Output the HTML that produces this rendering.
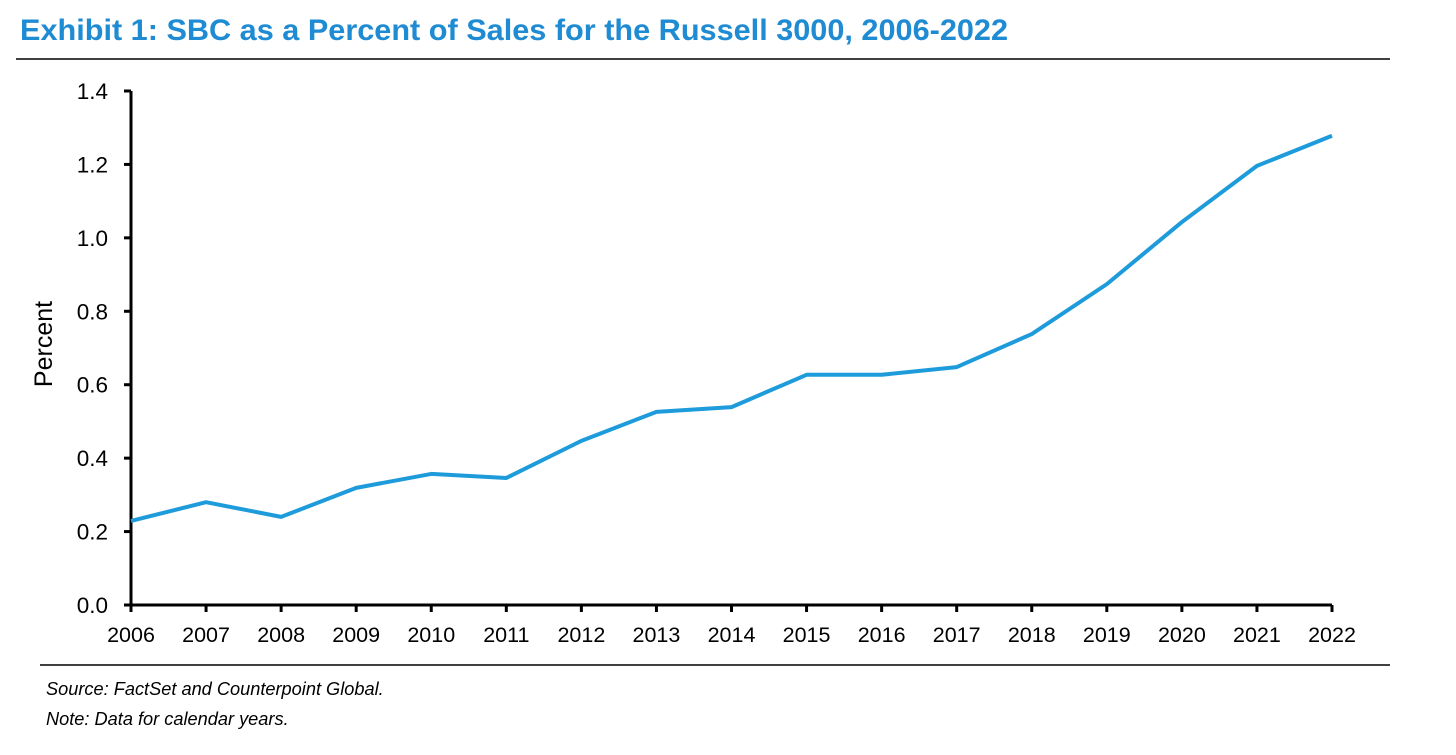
<!DOCTYPE html>
<html><head><meta charset="utf-8"><style>
body{margin:0;background:#fff;width:1456px;height:750px;overflow:hidden;font-family:"Liberation Sans",Arial,sans-serif}
</style></head><body>
<svg width="1456" height="750" xmlns="http://www.w3.org/2000/svg">
<text x="20" y="40" font-size="30" font-weight="bold" fill="#1E8BD3" textLength="988" lengthAdjust="spacingAndGlyphs">Exhibit 1: SBC as a Percent of Sales for the Russell 3000, 2006-2022</text>
<line x1="16" y1="59" x2="1390" y2="59" stroke="#000" stroke-width="1.5"/>
<line x1="40" y1="665" x2="1390" y2="665" stroke="#000" stroke-width="1.5"/>
<text x="46" y="695" font-size="18.2" font-style="italic">Source: FactSet and Counterpoint Global.</text>
<text x="46" y="725" font-size="18.2" font-style="italic">Note: Data for calendar years.</text>
<text transform="translate(52,344) rotate(-90)" text-anchor="middle" font-size="25">Percent</text>
<g id="plot"></g>
</svg>
<script>
const years=[2006,2007,2008,2009,2010,2011,2012,2013,2014,2015,2016,2017,2018,2019,2020,2021,2022];
const values=[0.229,0.28,0.24,0.319,0.357,0.346,0.447,0.526,0.539,0.627,0.627,0.648,0.738,0.874,1.043,1.196,1.278];
const yTicks=[0,0.2,0.4,0.6,0.8,1.0,1.2,1.4];
const X0=131,X1=1332,Y0=605,Y1=91;
const xs=i=>X0+(X1-X0)*i/(years.length-1);
const ys=v=>Y0-(Y0-Y1)*v/1.4;
const g=document.getElementById('plot');
const NS='http://www.w3.org/2000/svg';
function mk(t,a){const e=document.createElementNS(NS,t);for(const k in a)e.setAttribute(k,a[k]);g.appendChild(e);return e;}
let e=mk('line',{x1:X0,y1:Y1,x2:X0,y2:Y0,stroke:'#000','stroke-width':3});


e=mk('line',{x1:X0,y1:Y0,x2:X1,y2:Y0,stroke:'#000','stroke-width':3});


yTicks.forEach(t=>{
 const y=ys(t);
 let l=mk('line',{x1:X0-7,y1:y,x2:X0,y2:y,stroke:'#000','stroke-width':3});
 
 
 let tx=mk('text',{x:X0-23,y:y+8,'text-anchor':'end','font-size':22.5});
 tx.textContent=t.toFixed(1);
 
 
});
years.forEach((yr,i)=>{
 const x=xs(i);
 let l=mk('line',{x1:x,y1:Y0,x2:x,y2:Y0+7,stroke:'#000','stroke-width':3});
 
 
 let tx=mk('text',{x:x,y:642,'text-anchor':'middle','font-size':21.5});
 tx.textContent=yr;
 
 
});
const pts=values.map((v,i)=>xs(i)+','+ys(v)).join(' ');
e=mk('polyline',{points:pts,fill:'none',stroke:'#1E9BDB','stroke-width':4,'stroke-linejoin':'round'});


</script>
</body></html>
